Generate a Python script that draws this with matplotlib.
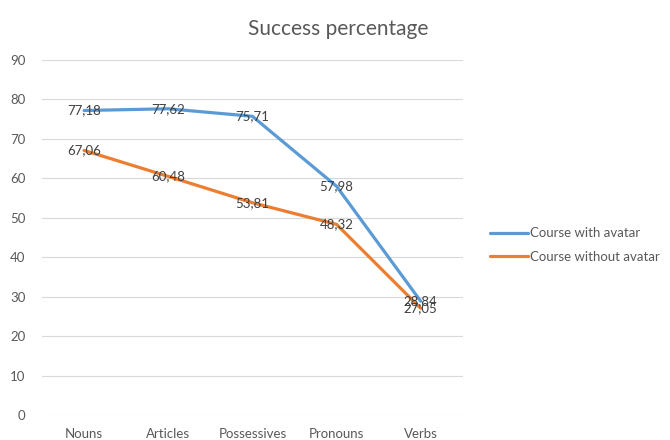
import matplotlib
matplotlib.use("Agg")
import matplotlib.pyplot as plt

categories = ["Nouns", "Articles", "Possessives", "Pronouns", "Verbs"]
with_avatar = [77.18, 77.62, 75.71, 57.98, 28.84]
without_avatar = [67.06, 60.48, 53.81, 48.32, 27.05]
y_ticks = [0, 10, 20, 30, 40, 50, 60, 70, 80, 90]

plt.rcParams["font.family"] = ["Lato", "DejaVu Sans"]
text_color = "#595959"
blue = "#5B9BD5"
orange = "#ED7D31"

fig = plt.figure(figsize=(6.7, 4.4), dpi=100)
ax = fig.add_axes([0.0627, 0.0568, 0.628, 0.807])

x = list(range(len(categories)))
ax.plot(x, with_avatar, color=blue, lw=2.3, solid_capstyle="round",
        solid_joinstyle="round", label="Course with avatar", zorder=3)
ax.plot(x, without_avatar, color=orange, lw=2.3, solid_capstyle="round",
        solid_joinstyle="round", label="Course without avatar", zorder=3)

def fmt(v):
    return f"{v:.2f}".replace(".", ",")

for series in (with_avatar, without_avatar):
    for xi, v in zip(x, series):
        ax.text(xi, v, fmt(v), ha="center", va="center", fontsize=9.5,
                color="#404040", zorder=4)

ax.set_xlim(-0.5, len(categories) - 0.5)
ax.set_ylim(0, 90)
ax.set_yticks(y_ticks)
ax.set_xticks(x)
ax.set_xticklabels(categories)
ax.tick_params(axis="both", length=0, labelsize=9.5, colors=text_color)
ax.tick_params(axis="y", pad=12)
ax.tick_params(axis="x", pad=9)
ax.grid(axis="y", color="#d9d9d9", lw=0.8)
ax.set_axisbelow(True)
for s in ax.spines.values():
    s.set_visible(False)

fig.text(0.505, 0.935, "Success percentage", ha="center", va="center",
         fontsize=15, color=text_color)

leg = fig.legend(loc="center left", bbox_to_anchor=(0.731, 0.443), frameon=False,
                 fontsize=9.5, handlelength=2.9, handletextpad=0.15,
                 labelspacing=0.85, borderaxespad=0, borderpad=0)
for t in leg.get_texts():
    t.set_color(text_color)

fig.savefig("out.png", dpi=100)
